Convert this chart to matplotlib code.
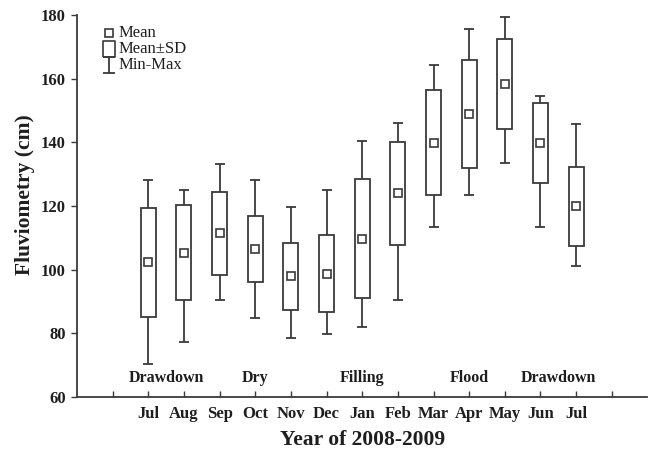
import matplotlib
matplotlib.use('Agg')
import matplotlib.pyplot as plt
from matplotlib.path import Path

plt.rcParams['font.family'] = 'Liberation Serif'

months = ['Jul', 'Aug', 'Sep', 'Oct', 'Nov', 'Dec', 'Jan', 'Feb', 'Mar', 'Apr', 'May', 'Jun', 'Jul']
mean = [102.3, 105.4, 111.5, 106.5, 97.9, 98.8, 109.8, 124.0, 139.9, 148.8, 158.4, 139.9, 119.9]
sd = [17.1, 15.05, 13.05, 10.5, 10.5, 12.0, 18.6, 16.2, 16.45, 16.95, 14.2, 12.55, 12.5]
vmin = [70.3, 77.4, 90.4, 84.9, 78.4, 79.8, 82.0, 90.4, 113.4, 123.6, 133.5, 113.4, 101.2]
vmax = [128.2, 125.1, 133.2, 128.2, 119.6, 125.1, 140.6, 146.1, 164.3, 175.6, 179.3, 154.6, 145.9]

phases = ['Drawdown', 'Dry', 'Filling', 'Flood', 'Drawdown']
phase_pos = [2.5, 5, 8, 11, 13.5]

col = '#3a3a3a'
tcol = '#1e1e1e'
x = list(range(2, 2 + len(months)))

fig = plt.figure(figsize=(6.49, 4.59), dpi=100)
ax = fig.add_axes([0.1186, 0.135, 0.879, 0.832])

lo = [m - s for m, s in zip(mean, sd)]
hi = [m + s for m, s in zip(mean, sd)]
ax.bar(x, [h - l for h, l in zip(hi, lo)], bottom=lo, width=0.42,
       facecolor='white', edgecolor=col, linewidth=1.3, zorder=2)
ax.vlines(x, vmin, lo, color=col, linewidth=1.3, zorder=1)
ax.vlines(x, hi, vmax, color=col, linewidth=1.3, zorder=1)
ax.plot(x, vmin, ls='none', marker='_', ms=7, mew=1.3, color=col)
ax.plot(x, vmax, ls='none', marker='_', ms=7, mew=1.3, color=col)
ax.plot(x, mean, ls='none', marker='s', ms=5.2, mfc='white', mec=col, mew=1.2, zorder=3)

for p, name in zip(phase_pos, phases):
    ax.text(p, 66, name, ha='center', va='center', fontsize=11.5, fontweight='bold', color=tcol)

ax.set_xlim(0, 16)
ax.set_ylim(60, 180)
ax.set_yticks(range(60, 181, 20))
ax.set_xticks(range(1, 16))
ax.set_xticklabels([''] + months + [''])
ax.tick_params(axis='x', direction='in', length=4, width=1, color=col, pad=6.5)
ax.tick_params(axis='y', direction='out', length=4, width=1, color=col, pad=4)
for lab in ax.get_xticklabels() + ax.get_yticklabels():
    lab.set_fontweight('bold')
    lab.set_fontsize(12)
    lab.set_color(tcol)
for s in ['top', 'right']:
    ax.spines[s].set_visible(False)
for s in ['left', 'bottom']:
    ax.spines[s].set_color(col)
    ax.spines[s].set_linewidth(1.3)

ax.set_xlabel('Year of 2008-2009', fontsize=15.5, fontweight='bold', color=tcol, va='center')
ax.xaxis.set_label_coords(0.5, -0.1126)
ax.set_ylabel('Fluviometry (cm)', fontsize=15.5, fontweight='bold', color=tcol, va='center')
ax.yaxis.set_label_coords(-0.091, 0.531)

# legend drawn by hand so the glyphs match the original
box = Path([(-0.4, -0.5), (0.4, -0.5), (0.4, 0.5), (-0.4, 0.5), (-0.4, -0.5)])
ibeam = Path([(-0.4, 0.5), (0.4, 0.5), (0, 0.5), (0, -0.5), (-0.4, -0.5), (0.4, -0.5)],
             [Path.MOVETO, Path.LINETO, Path.MOVETO, Path.LINETO, Path.MOVETO, Path.LINETO])
tr = ax.transAxes
leg_y = [0.953, 0.912, 0.870]
ax.plot(0.056, leg_y[0], transform=tr, marker='s', ms=5.2, mfc='white', mec=col, mew=1.2, clip_on=False)
ax.plot(0.056, leg_y[1], transform=tr, marker=box, ms=11.5, mfc='white', mec=col, mew=1.2, clip_on=False)
ax.plot(0.056, leg_y[2], transform=tr, marker=ibeam, ms=11, mec=col, mew=1.3, clip_on=False)
for yy, t in zip(leg_y, ['Mean', 'Mean\u00b1SD', 'Min-Max']):
    ax.text(0.0736, yy, t, transform=tr, fontsize=12, va='center', ha='left', color=tcol)

fig.savefig('out.png', dpi=100)
